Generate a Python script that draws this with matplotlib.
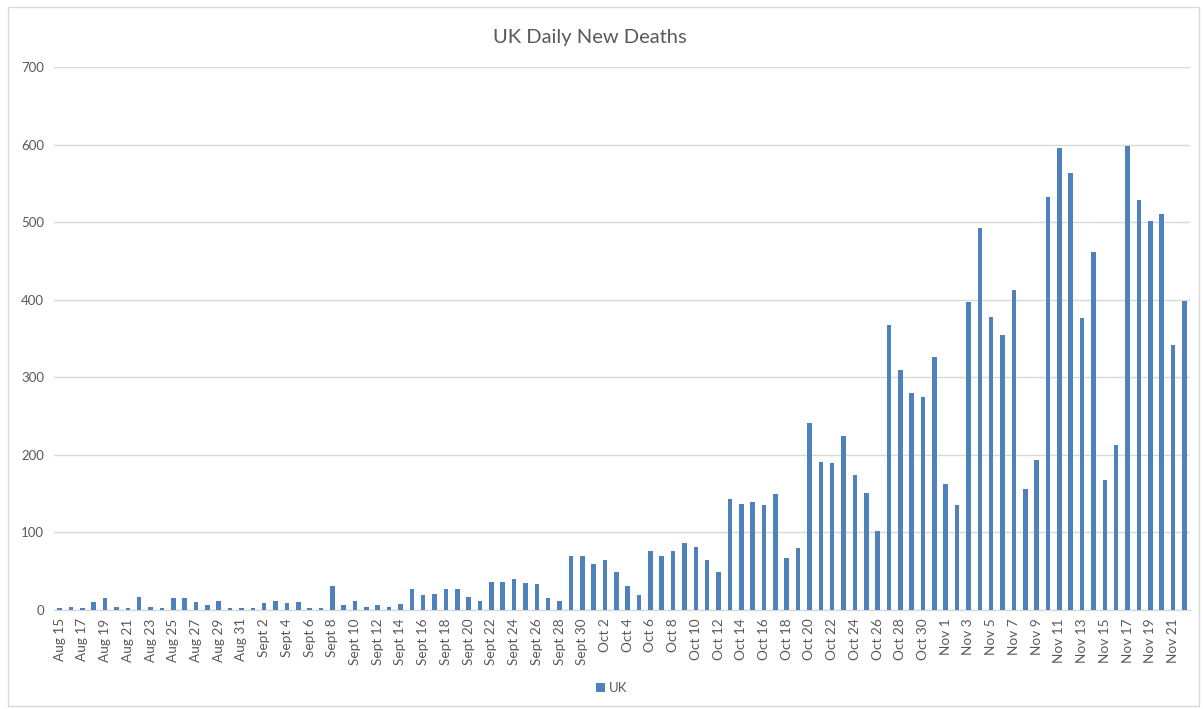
import matplotlib
matplotlib.use("Agg")
import matplotlib.pyplot as plt
from matplotlib.patches import Rectangle, Patch
import numpy as np

plt.rcParams['font.family'] = ['Lato', 'DejaVu Sans']

# ---- data ----
month_names = ["Aug", "Sept", "Oct", "Nov"]
month_days = [range(15, 32), range(1, 31), range(1, 32), range(1, 23)]
dates = [f"{m} {d}" for m, days in zip(month_names, month_days) for d in days]

aug_deaths = [3, 4, 3, 10, 16, 4, 2, 17, 4, 3, 16, 16, 10, 7, 11, 2, 2]
sep_deaths = [3, 9, 12, 9, 10, 2, 3, 31, 7, 12, 4, 7, 4, 8, 27, 19, 20, 27, 27, 17,
              11, 36, 36, 40, 35, 33, 15, 12, 70, 70]
oct_deaths = [59, 65, 49, 31, 19, 76, 70, 76, 87, 81, 65, 49, 143, 137, 139, 136, 150, 67, 80, 241,
              191, 189, 224, 174, 151, 102, 367, 310, 280, 274, 326]
nov_deaths = [162, 136, 397, 492, 378, 355, 413, 156, 194, 532, 595, 563, 376, 462, 168, 213, 598,
              529, 501, 511, 341, 398]
uk_deaths = aug_deaths + sep_deaths + oct_deaths + nov_deaths

series_name = "UK"
title = "UK Daily New Deaths"
y_ticks = [0, 100, 200, 300, 400, 500, 600, 700]

# ---- style ----
bar_color = "#4F81BD"
text_color = "#595959"
grid_color = "#D9D9D9"

W, H = 1203, 709
fig = plt.figure(figsize=(W / 100, H / 100), dpi=100)
fig.patch.set_facecolor("white")

# outer chart border
fig.patches.append(Rectangle((8 / W, 3 / H), (W - 12) / W, (H - 10) / H,
                             transform=fig.transFigure, fill=False,
                             edgecolor=grid_color, linewidth=1.0))

ax = fig.add_axes([54 / W, (H - 610) / H, (1190 - 54) / W, (610 - 67) / H])
x = np.arange(len(dates))
ax.bar(x, uk_deaths, width=0.4, color=bar_color, zorder=3)

ax.set_xlim(-0.5, len(dates) - 0.5)
ax.set_ylim(0, 700)
ax.set_yticks(y_ticks)
ax.set_yticklabels([str(t) for t in y_ticks], fontsize=9.5, color=text_color)
ax.yaxis.grid(True, color=grid_color, linewidth=1.0, zorder=0)
ax.set_axisbelow(True)

ax.set_xticks(x[::2])
ax.set_xticklabels(dates[::2], rotation=90, fontsize=9.8, color=text_color)
ax.tick_params(axis='both', length=0)
ax.tick_params(axis='y', pad=7)
ax.tick_params(axis='x', pad=6)

for s in ["top", "right", "left"]:
    ax.spines[s].set_visible(False)
ax.spines["bottom"].set_color(grid_color)
ax.spines["bottom"].set_linewidth(1.0)

fig.text(590 / W, 1 - 37 / H, title, ha="center", va="center", fontsize=14.5, color=text_color)

leg = fig.legend(handles=[Patch(facecolor=bar_color, label=series_name)],
                 loc="center", bbox_to_anchor=(612 / W, 1 - 688 / H),
                 frameon=False, fontsize=9.5, handlelength=0.7, handleheight=0.7,
                 handletextpad=0.3, labelcolor=text_color)

fig.savefig("out.png", dpi=100, facecolor="white")
